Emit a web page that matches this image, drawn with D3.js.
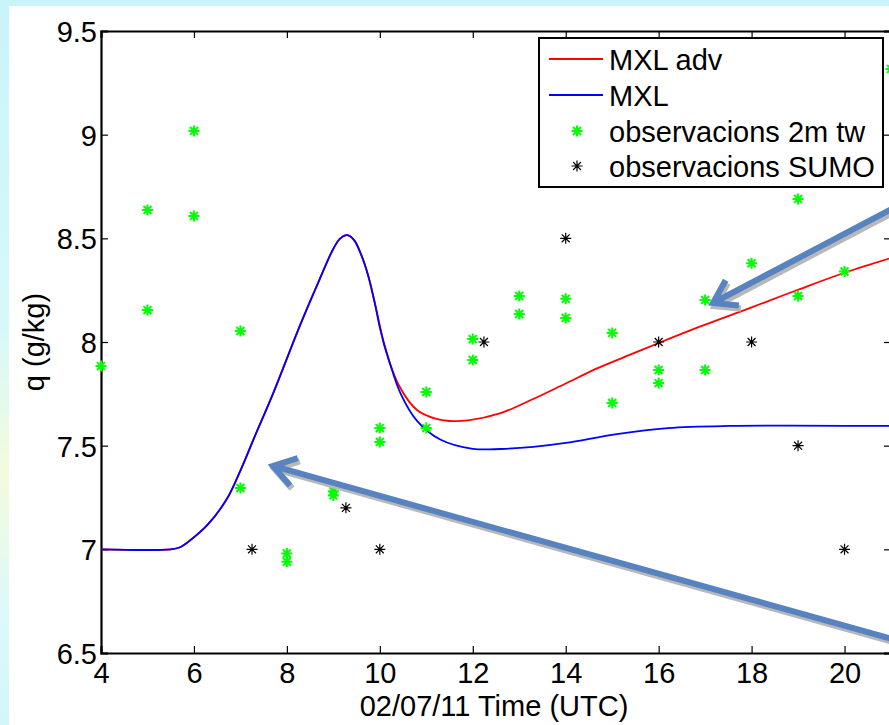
<!DOCTYPE html>
<html>
<head>
<meta charset="utf-8">
<script src="https://cdn.jsdelivr.net/npm/d3@7"></script>
<style>
  body { margin: 0; padding: 0; overflow: hidden; }
  text { font-family: "Liberation Sans", Arial, sans-serif; fill: #000; }
</style>
</head>
<body>
<div id="chart"></div>
<script>
// MXL model runs (hour UTC, q g/kg)
var mxlHours = [4, 5.5, 5.7, 5.9, 6.3, 6.7, 7.0, 7.3, 7.7, 8.3, 8.7, 9.0, 9.15, 9.3, 9.45, 9.6, 9.75, 9.9, 10.0, 10.2, 10.45, 10.8, 11.3, 12.0, 12.6, 13.3, 14.0, 15.1, 16.2, 17.5, 21];
var mxlValues = [7.0, 7.0, 7.01, 7.04, 7.12, 7.24, 7.38, 7.54, 7.75, 8.09, 8.3, 8.45, 8.5, 8.515, 8.49, 8.42, 8.32, 8.18, 8.07, 7.91, 7.75, 7.62, 7.53, 7.485, 7.484, 7.494, 7.513, 7.556, 7.585, 7.595, 7.595];

var advHours = [4, 5.5, 5.7, 5.9, 6.3, 6.7, 7.0, 7.3, 7.7, 8.3, 8.7, 9.0, 9.15, 9.3, 9.45, 9.6, 9.75, 9.9, 10.0, 10.1, 10.43, 10.8, 11.2, 11.5, 11.9, 12.6, 13.3, 14.0, 14.7, 15.4, 16.0, 16.9, 18.0, 19.0, 20.0, 21];
var advValues = [7.0, 7.0, 7.01, 7.04, 7.12, 7.24, 7.38, 7.54, 7.75, 8.09, 8.3, 8.45, 8.5, 8.515, 8.49, 8.42, 8.32, 8.18, 8.08, 7.98, 7.783, 7.672, 7.63, 7.619, 7.622, 7.657, 7.725, 7.80, 7.875, 7.94, 7.995, 8.075, 8.167, 8.252, 8.334, 8.405];

// observacions 2m tw
var obsHours = [4, 5, 5, 6, 6, 7, 7, 8, 8, 9, 9, 10, 10, 11, 11, 12, 12, 13, 13, 14, 14, 15, 15, 16, 16, 17, 17, 18, 19, 19, 20, 21];
var obsValues = [7.884, 8.637, 8.154, 9.018, 8.608, 8.053, 7.296, 6.98, 6.94, 7.28, 7.26, 7.585, 7.518, 7.759, 7.585, 8.014, 7.913, 8.222, 8.135, 8.208, 8.116, 8.044, 7.706, 7.865, 7.802, 8.203, 7.865, 8.38, 8.69, 8.222, 8.34, 9.317];

// observacions SUMO
var sumoHours = [7.25, 9.27, 10, 12.24, 14, 16, 18, 19, 20];
var sumoValues = [7.0, 7.2, 7.0, 8.0, 8.5, 8.0, 8.0, 7.5, 7.0];

var xTicks = [4, 6, 8, 10, 12, 14, 16, 18, 20];
var yTicks = [6.5, 7, 7.5, 8, 8.5, 9, 9.5];

var legendLabels = ["MXL adv", "MXL", "observacions 2m tw", "observacions SUMO"];

// annotation arrows: [tailHour, tailQ, tipHour, tipQ]
var arrows = [
  [21.3, 8.675, 17.17, 8.188],
  [21.3, 6.55, 7.7, 7.402]
];

var W = 889, H = 725;
var margin = { top: 31, left: 101 };
var width = 790, height = 622;
var fs = 29;

var svg = d3.select("#chart").append("svg")
  .attr("width", W)
  .attr("height", H);

// slide background
var defs = svg.append("defs");
var grad = defs.append("linearGradient")
  .attr("id", "bg")
  .attr("x1", 0).attr("y1", 0).attr("x2", 0).attr("y2", 1);
grad.append("stop").attr("offset", "0%").attr("stop-color", "#c9f4fa");
grad.append("stop").attr("offset", "45%").attr("stop-color", "#d6f8fb");
grad.append("stop").attr("offset", "65%").attr("stop-color", "#f3fbdc");
grad.append("stop").attr("offset", "85%").attr("stop-color", "#dcf9fb");
grad.append("stop").attr("offset", "100%").attr("stop-color", "#d2f6fa");

svg.append("rect").attr("width", W).attr("height", H).attr("fill", "url(#bg)");
svg.append("rect").attr("x", 9).attr("y", 6).attr("width", W).attr("height", H).attr("fill", "#fff");

var g = svg.append("g")
  .attr("transform", "translate(" + margin.left + "," + margin.top + ")");

var x = d3.scaleLinear().domain([4, 21]).range([0, width]);
var y = d3.scaleLinear().domain([6.5, 9.5]).range([height, 0]);

// axes box with inward ticks
g.append("g")
  .attr("transform", "translate(0," + height + ")")
  .call(d3.axisBottom(x).tickValues(xTicks).tickSize(-7).tickPadding(8).tickFormat(d3.format("d")))
  .call(function (a) {
    a.select(".domain").attr("stroke-width", 2.2);
    a.selectAll(".tick line").attr("stroke-width", 1.2);
    a.selectAll(".tick text").attr("font-size", fs).attr("dy", "0.76em")
      .style("font-family", "'Liberation Sans', Arial, sans-serif");
  });

g.append("g")
  .call(d3.axisTop(x).tickValues(xTicks).tickSize(-7).tickFormat(""))
  .call(function (a) {
    a.select(".domain").attr("stroke-width", 2.2);
    a.selectAll(".tick line").attr("stroke-width", 1.2);
  });

g.append("g")
  .call(d3.axisLeft(y).tickValues(yTicks).tickSize(-7).tickPadding(4).tickFormat(d3.format("")))
  .call(function (a) {
    a.select(".domain").attr("stroke-width", 2.2);
    a.selectAll(".tick line").attr("stroke-width", 1.2);
    a.selectAll(".tick text").attr("font-size", fs).attr("dy", "0.36em")
      .style("font-family", "'Liberation Sans', Arial, sans-serif");
  });

g.append("g")
  .attr("transform", "translate(" + width + ",0)")
  .call(d3.axisRight(y).tickValues(yTicks).tickSize(-7).tickFormat(""))
  .call(function (a) {
    a.select(".domain").attr("stroke-width", 2.2);
    a.selectAll(".tick line").attr("stroke-width", 1.2);
  });

// axis labels
g.append("text")
  .attr("text-anchor", "middle")
  .attr("x", width / 2 - 2)
  .attr("y", height + 63)
  .attr("font-size", fs)
  .text("02/07/11 Time (UTC)");

g.append("text")
  .attr("text-anchor", "middle")
  .attr("transform", "rotate(-90)")
  .attr("x", -height / 2)
  .attr("y", -57)
  .attr("font-size", fs)
  .text("q (g/kg)");

// model lines
var line = d3.line()
  .x(function (d) { return x(d[0]); })
  .y(function (d) { return y(d[1]); })
  .curve(d3.curveCatmullRom.alpha(0.5));

g.append("path")
  .datum(advHours.map(function (h, i) { return [h, advValues[i]]; }))
  .attr("fill", "none")
  .attr("stroke", "#ff0000")
  .attr("stroke-width", 1.8)
  .attr("d", line);

g.append("path")
  .datum(mxlHours.map(function (h, i) { return [h, mxlValues[i]]; }))
  .attr("fill", "none")
  .attr("stroke", "#0000ff")
  .attr("stroke-width", 1.8)
  .attr("d", line);

// asterisk marker like matlab '*'
function star(r) {
  var a = r * 0.72;
  return "M" + -r + ",0H" + r + "M0," + -r + "V" + r +
    "M" + -a + "," + -a + "L" + a + "," + a +
    "M" + -a + "," + a + "L" + a + "," + -a;
}

g.selectAll(".obs")
  .data(obsHours.map(function (h, i) { return [h, obsValues[i]]; }))
  .enter()
  .append("path")
  .attr("class", "obs")
  .attr("transform", function (d) { return "translate(" + x(d[0]) + "," + y(d[1]) + ")"; })
  .attr("d", star(5.5))
  .attr("stroke", "#00ff00")
  .attr("stroke-width", 2);

g.selectAll(".sumo")
  .data(sumoHours.map(function (h, i) { return [h, sumoValues[i]]; }))
  .enter()
  .append("path")
  .attr("class", "sumo")
  .attr("transform", function (d) { return "translate(" + x(d[0]) + "," + y(d[1]) + ")"; })
  .attr("d", star(5.5))
  .attr("stroke", "#000")
  .attr("stroke-width", 1.2);

// legend
var leg = svg.append("g");
leg.append("rect")
  .attr("x", 539).attr("y", 38)
  .attr("width", 344).attr("height", 149)
  .attr("fill", "#fff")
  .attr("stroke", "#000")
  .attr("stroke-width", 2);

var legY = [70, 106, 142, 177];
legendLabels.forEach(function (lab, i) {
  var cy = legY[i] - 11;
  if (i < 2) {
    leg.append("line")
      .attr("x1", 549).attr("x2", 603)
      .attr("y1", cy).attr("y2", cy)
      .attr("stroke", i === 0 ? "#ff0000" : "#0000ff")
      .attr("stroke-width", 1.8);
  } else {
    leg.append("path")
      .attr("transform", "translate(577," + cy + ")")
      .attr("d", star(5.5))
      .attr("stroke", i === 2 ? "#00ff00" : "#000")
      .attr("stroke-width", i === 2 ? 2 : 1.2);
  }
  leg.append("text")
    .attr("x", 609)
    .attr("y", legY[i])
    .attr("font-size", fs)
    .text(lab);
});

// annotation arrows (slide overlay)
function arrowPath(a) {
  var x0 = x(a[0]) + margin.left, y0 = y(a[1]) + margin.top;
  var x1 = x(a[2]) + margin.left, y1 = y(a[3]) + margin.top;
  var ang = Math.atan2(y0 - y1, x0 - x1);
  var L = 26, sp = 0.58;
  var w1 = [x1 + L * Math.cos(ang - sp), y1 + L * Math.sin(ang - sp)];
  var w2 = [x1 + L * Math.cos(ang + sp), y1 + L * Math.sin(ang + sp)];
  return "M" + x0 + "," + y0 + "L" + x1 + "," + y1 +
    "M" + w1[0] + "," + w1[1] + "L" + x1 + "," + y1 + "L" + w2[0] + "," + w2[1];
}

var arr = svg.append("g");
arrows.forEach(function (a) {
  arr.append("path")
    .attr("d", arrowPath(a))
    .attr("transform", "translate(2,3)")
    .attr("fill", "none")
    .attr("stroke", "#b8b8b8")
    .attr("stroke-width", 6.5)
    .attr("stroke-linejoin", "miter");
  arr.append("path")
    .attr("d", arrowPath(a))
    .attr("fill", "none")
    .attr("stroke", "#5783c1")
    .attr("stroke-width", 6)
    .attr("stroke-linejoin", "miter");
});
</script>
</body>
</html>
